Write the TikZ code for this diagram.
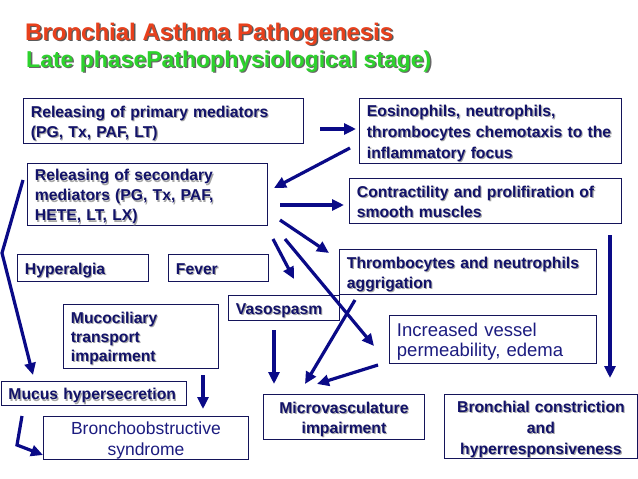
\documentclass[tikz,border=0pt]{standalone}
\usepackage{fontspec}
\setmainfont{Liberation Sans}
\usetikzlibrary{arrows.meta}
\definecolor{navy}{RGB}{18,18,105}
\definecolor{navyreg}{RGB}{28,28,128}
\definecolor{arrc}{RGB}{10,10,135}
\definecolor{boxc}{RGB}{20,20,90}
\definecolor{titred}{RGB}{232,64,28}
\definecolor{titgreen}{RGB}{45,210,45}
\newcommand\shboxx[4]{\rlap{\kern#2\raisebox{-#2}{\color{#1}\begin{tabular}[b]{@{}#3@{}}#4\end{tabular}}}\begin{tabular}[b]{@{}#3@{}}#4\end{tabular}}
\newcommand\lowr[1]{\raisebox{-3pt}[\height][\depth]{#1}}
\newcommand\shbox[2]{\lowr{\shboxx{black!35}{1.1pt}{#1}{#2}}}
\newcommand\plbox[2]{\lowr{\begin{tabular}[b]{@{}#1@{}}#2\end{tabular}}}
\newcommand\mybf{\fontsize{15.7}{20}\selectfont\bfseries}
\tikzset{
  bx/.style={draw=boxc, line width=0.9pt, anchor=north west, inner xsep=7.5pt, inner ysep=0pt, text=navy, font=\mybf, align=left},
  bxc/.style={bx, align=center},
  arr/.style={draw=arrc, line width=3.2pt, -{Triangle[length=12pt,width=11pt]}},
}
\begin{document}
\begin{tikzpicture}[x=1pt,y=-1pt]
\fill[white] (0,0) rectangle (638,479);
\useasboundingbox (0,0) rectangle (638,479);

% titles
\node[anchor=base west, inner sep=0pt, font=\fontsize{24}{28}\selectfont\bfseries, text=titred] (title) at (25,40)
  {\shboxx{black!65}{1.4pt}{l}{Bronchial Asthma Pathogenesis}};
\node[anchor=base west, inner sep=0pt, font=\fontsize{23}{27}\selectfont\bfseries, text=titgreen] (subtitle) at (26,67)
  {\shboxx{black!60}{1.4pt}{l}{Late phasePathophysiological stage)}};

% boxes
\node[bx, text width=265pt, minimum height=45pt] (b1) at (23,98)
  {\noindent\shbox{l}{Releasing of primary mediators\\(PG, Tx, PAF, LT)}};
\node[bx, text width=225pt, minimum height=62pt] (b2) at (27,163)
  {\noindent\shbox{l}{Releasing of secondary\\mediators (PG, Tx, PAF,\\HETE, LT, LX)}};
\node[bx, text width=247pt, minimum height=65pt, font=\fontsize{15.7}{21}\selectfont\bfseries] (b3) at (359,98)
  {\noindent\shbox{l}{Eosinophils, neutrophils,\\thrombocytes chemotaxis to the\\inflammatory focus}};
\node[bx, text width=257pt, minimum height=45pt] (b4) at (349,178)
  {\noindent\shbox{l}{Contractility and prolifiration of\\smooth muscles}};
\node[bx, text width=116pt, minimum height=27pt] (hyp) at (17,254)
  {\noindent\shbox{l}{Hyperalgia}};
\node[bx, text width=85pt, minimum height=27pt] (fev) at (168,254)
  {\noindent\shbox{l}{Fever}};
\node[bx, text width=242pt, minimum height=45pt] (thr) at (339,249)
  {\noindent\shbox{l}{Thrombocytes and neutrophils\\aggrigation}};
\node[bx, text width=96pt, minimum height=25pt] (vas) at (228,295)
  {\noindent\shbox{l}{Vasospasm}};
\node[bx, text width=140pt, minimum height=64pt, font=\fontsize{15.7}{19}\selectfont\bfseries] (muco) at (63,304)
  {\noindent\shbox{l}{Mucociliary\\transport\\impairment}};
\node[bx, text width=192pt, minimum height=48pt, text=navyreg, font=\fontsize{18.5}{20.5}\selectfont] (inc) at (389,315)
  {\noindent\plbox{l}{Increased vessel\\permeability, edema}};
\node[bx, text width=170.5pt, minimum height=24pt] (mucus) at (0.5,381)
  {\noindent\shbox{l}{Mucus hypersecretion}};
\node[bxc, text width=190pt, minimum height=43pt, text=navyreg, font=\fontsize{17.5}{20.5}\selectfont] (bro) at (43,416)
  {\plbox{c}{Bronchoobstructive\\syndrome}};
\node[bxc, text width=146pt, minimum height=45pt] (micro) at (263,394)
  {\shbox{c}{Microvasculature\\impairment}};
\node[bxc, text width=178pt, minimum height=64pt, font=\fontsize{15.7}{21}\selectfont\bfseries] (bron) at (444,394)
  {\shbox{c}{Bronchial constriction\\and\\hyperresponsiveness}};

% arrow end points
\coordinate (a1s) at (320,129);  \coordinate (a1e) at (356,129);
\coordinate (a2s) at (350,148);  \coordinate (a2e) at (274,188);
\coordinate (a3s) at (280,205);  \coordinate (a3e) at (344,205);
\coordinate (a4s) at (280,220);  \coordinate (a4e) at (329,253);
\coordinate (a5s) at (273,239);  \coordinate (a5e) at (294,279);
\coordinate (a6s) at (285,239);  \coordinate (a6e) at (374,346);
\coordinate (a7s) at (274,330);  \coordinate (a7e) at (274,384);
\coordinate (a8s) at (355,300);  \coordinate (a8e) at (305,384);
\coordinate (a9s) at (378,365);  \coordinate (a9e) at (317,384);
\coordinate (a10s) at (610,235); \coordinate (a10e) at (610,378);
\coordinate (a11s) at (23,180);  \coordinate (a11m) at (2,253); \coordinate (a11e) at (33,375);
\coordinate (a12s) at (203,375); \coordinate (a12e) at (203,409);
\coordinate (a13s) at (22,416);  \coordinate (a13m) at (17,445); \coordinate (a13e) at (43,455);

\draw[arr] (a1s) -- (a1e);
\draw[arr] (a2s) -- (a2e);
\draw[arr] (a3s) -- (a3e);
\draw[arr] (a4s) -- (a4e);
\draw[arr] (a5s) -- (a5e);
\draw[arr] (a6s) -- (a6e);
\draw[arr] (a7s) -- (a7e);
\draw[arr] (a8s) -- (a8e);
\draw[arr] (a9s) -- (a9e);
\draw[arr] (a10s) -- (a10e);
\draw[arr] (a11s) -- (a11m) -- (a11e);
\draw[arr] (a12s) -- (a12e);
\draw[arr] (a13s) -- (a13m) -- (a13e);
\end{tikzpicture}
\end{document}
